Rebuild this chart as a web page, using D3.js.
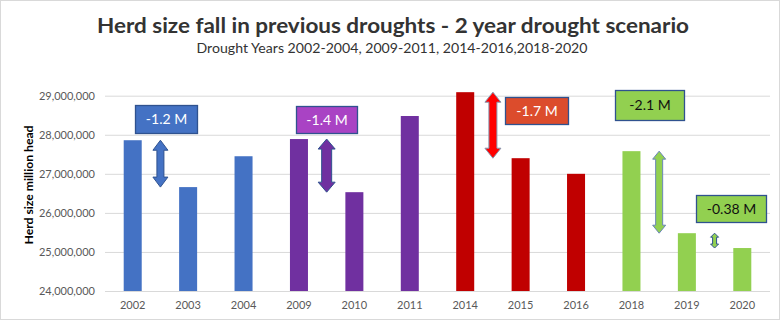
<!DOCTYPE html>
<html>
<head>
<meta charset="utf-8">
<script src="https://cdn.jsdelivr.net/npm/d3@7"></script>
<style>
  body { margin: 0; background: #fff; }
  svg { display: block; font-family: Lato, "Open Sans", sans-serif; }
</style>
</head>
<body>
<div id="chart"></div>
<script>
// Herd size by year, grouped by drought period
const years = ["2002", "2003", "2004", "2009", "2010", "2011", "2014", "2015", "2016", "2018", "2019", "2020"];
const herd = [27860000, 26660000, 27450000, 27890000, 26530000, 28480000, 29090000, 27400000, 27000000, 27580000, 25480000, 25100000];
const periods = ["p1", "p1", "p1", "p2", "p2", "p2", "p3", "p3", "p3", "p4", "p4", "p4"];
const yTicks = [24000000, 25000000, 26000000, 27000000, 28000000, 29000000];

// Fall between consecutive years: [from, to, label]
const falls = [
    ["2002", "2003", "-1.2 M"],
    ["2009", "2010", "-1.4 M"],
    ["2014", "2015", "-1.7 M"],
    ["2018", "2019", "-2.1 M"],
    ["2019", "2020", "-0.38 M"]
];

const width = 781, height = 321;

const barColor = { p1: "#4472C4", p2: "#7030A0", p3: "#C00000", p4: "#92D050" };

// arrow + callout box styling per fall
const fallStyle = [
    { fill: "#4472C4", stroke: "#2F528F", head: 15, shaft: 7, headLen: 10, box: "#4472C4", text: "#fff", dx: 6, top: 28760000, w: 62, h: 28 },
    { fill: "#7030A0", stroke: "#2F528F", head: 17, shaft: 10, headLen: 10, box: "#A943C4", text: "#fff", dx: 0, top: 28730000, w: 61, h: 27 },
    { fill: "#FF0000", stroke: "#8497B0", head: 16, shaft: 8, headLen: 10, box: "#DC4C2C", text: "#fff", dx: 44, top: 28960000, w: 63, h: 27 },
    { fill: "#92D050", stroke: "#6A85B8", head: 13, shaft: 7, headLen: 8, box: "#92D050", text: "#111", dx: -10, top: 29140000, w: 69, h: 30 },
    { fill: "#92D050", stroke: "#2F528F", head: 8, shaft: 4, headLen: 4, box: "#92D050", text: "#111", dx: 16, top: 26460000, w: 70, h: 27 }
];

const svg = d3.select("#chart")
    .append("svg")
    .attr("width", width)
    .attr("height", height);

svg.append("rect")
    .attr("x", 0.5).attr("y", 0.5)
    .attr("width", width - 2).attr("height", height - 2)
    .attr("fill", "#fff")
    .attr("stroke", "#D9D9D9");

const x = d3.scaleBand()
    .domain(years)
    .range([105, 770])
    .paddingInner(0.675)
    .paddingOuter(0.3375);

const y = d3.scaleLinear()
    .domain([24000000, 29000000])
    .range([291, 95.7]);

// Titles
svg.append("text")
    .attr("x", 393).attr("y", 33)
    .attr("text-anchor", "middle")
    .attr("font-size", 21).attr("font-weight", "bold")
    .attr("fill", "#333")
    .attr("textLength", 592).attr("lengthAdjust", "spacingAndGlyphs")
    .text("Herd size fall in previous droughts - 2 year drought scenario");

svg.append("text")
    .attr("x", 392).attr("y", 53)
    .attr("text-anchor", "middle")
    .attr("font-size", 14)
    .attr("fill", "#333")
    .attr("textLength", 391).attr("lengthAdjust", "spacingAndGlyphs")
    .text("Drought Years 2002-2004, 2009-2011, 2014-2016,2018-2020");

// Gridlines and y axis labels
const yAxis = svg.append("g")
    .attr("transform", "translate(105,0)")
    .call(d3.axisLeft(y)
        .tickValues(yTicks)
        .tickSize(-665)
        .tickPadding(10)
        .tickFormat(d3.format(",")));
yAxis.select(".domain").remove();
yAxis.selectAll(".tick line").attr("stroke", "#D9D9D9");
yAxis.selectAll(".tick text")
    .attr("fill", "#595959")
    .attr("font-size", 11)
    .attr("font-family", "Lato, sans-serif");

svg.append("text")
    .attr("transform", "translate(33,185) rotate(-90)")
    .attr("text-anchor", "middle")
    .attr("font-size", 12).attr("font-weight", "bold")
    .attr("fill", "#000")
    .attr("textLength", 119).attr("lengthAdjust", "spacingAndGlyphs")
    .text("Herd size  million head");

// x axis labels
const xAxis = svg.append("g")
    .attr("transform", "translate(0,291)")
    .call(d3.axisBottom(x).tickSize(0).tickPadding(10));
xAxis.select(".domain").remove();
xAxis.selectAll(".tick text")
    .attr("fill", "#595959")
    .attr("font-size", 11)
    .attr("font-family", "Lato, sans-serif");

// Bars
svg.append("g")
    .selectAll("rect")
    .data(years)
    .join("rect")
    .attr("x", d => x(d))
    .attr("width", x.bandwidth())
    .attr("y", (d, i) => y(herd[i]))
    .attr("height", (d, i) => y(24000000) - y(herd[i]))
    .attr("fill", (d, i) => barColor[periods[i]]);

// double-headed block arrow between two values
function arrowPath(cx, y1, y2, s) {
    const hw = s.head / 2, sw = s.shaft / 2, hl = s.headLen;
    return `M${cx},${y1} L${cx + hw},${y1 + hl} L${cx + sw},${y1 + hl} L${cx + sw},${y2 - hl}
        L${cx + hw},${y2 - hl} L${cx},${y2} L${cx - hw},${y2 - hl} L${cx - sw},${y2 - hl}
        L${cx - sw},${y1 + hl} L${cx - hw},${y1 + hl} Z`;
}

const step = x.step();
const ann = svg.append("g");
falls.forEach((f, i) => {
    const s = fallStyle[i];
    const a = years.indexOf(f[0]), b = years.indexOf(f[1]);
    const cx = x(f[0]) + x.bandwidth() / 2 + step / 2;
    ann.append("path")
        .attr("d", arrowPath(cx, y(herd[a]), y(herd[b]), s))
        .attr("fill", s.fill)
        .attr("stroke", s.stroke)
        .attr("stroke-width", 1);

    const bx = cx + s.dx - s.w / 2, by = y(s.top);
    ann.append("rect")
        .attr("x", Math.round(bx) + 0.5).attr("y", Math.round(by) + 0.5)
        .attr("width", s.w).attr("height", s.h)
        .attr("fill", s.box)
        .attr("stroke", "#2F528F")
        .attr("stroke-width", 1.3);
    ann.append("text")
        .attr("x", Math.round(bx) + 0.5 + s.w / 2)
        .attr("y", Math.round(by) + s.h / 2 + 5)
        .attr("text-anchor", "middle")
        .attr("font-size", 14)
        .attr("fill", s.text)
        .text(f[2]);
});
</script>
</body>
</html>
